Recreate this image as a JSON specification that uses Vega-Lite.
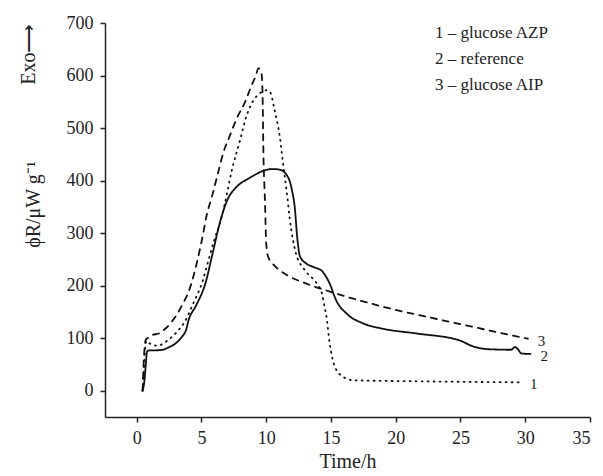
{
  "$schema": "https://vega.github.io/schema/vega-lite/v6.json",
  "width": 485,
  "height": 394,
  "autosize": {"type": "none"},
  "padding": {"left": 105, "top": 23, "right": 13, "bottom": 59},
  "background": "white",
  "config": {
    "view": {"stroke": null},
    "font": "'Liberation Serif', 'Times New Roman', serif",
    "axis": {
      "grid": false,
      "labelFont": "'Liberation Serif', 'Times New Roman', serif",
      "labelFontSize": 18,
      "labelColor": "#222",
      "labelPadding": 7,
      "tickSize": 5,
      "tickColor": "#222",
      "tickWidth": 1.5,
      "domainColor": "#222",
      "domainWidth": 1.5,
      "titleFont": "'Liberation Serif', 'Times New Roman', serif",
      "titleFontSize": 20,
      "titleFontWeight": "normal",
      "titleColor": "#222"
    }
  },
  "data": {
    "values": [
      {"t": 0.45, "phi": 0, "curve": "2 – reference", "id": "2"},
      {"t": 0.6, "phi": 20, "curve": "2 – reference", "id": "2"},
      {"t": 0.7, "phi": 50, "curve": "2 – reference", "id": "2"},
      {"t": 0.8, "phi": 75, "curve": "2 – reference", "id": "2"},
      {"t": 1.0, "phi": 77, "curve": "2 – reference", "id": "2"},
      {"t": 1.5, "phi": 77, "curve": "2 – reference", "id": "2"},
      {"t": 2.0, "phi": 78, "curve": "2 – reference", "id": "2"},
      {"t": 2.5, "phi": 83, "curve": "2 – reference", "id": "2"},
      {"t": 3.0, "phi": 90, "curve": "2 – reference", "id": "2"},
      {"t": 3.5, "phi": 103, "curve": "2 – reference", "id": "2"},
      {"t": 3.8, "phi": 115, "curve": "2 – reference", "id": "2"},
      {"t": 4.0, "phi": 134, "curve": "2 – reference", "id": "2"},
      {"t": 4.6, "phi": 163, "curve": "2 – reference", "id": "2"},
      {"t": 5.3, "phi": 204, "curve": "2 – reference", "id": "2"},
      {"t": 5.8, "phi": 255, "curve": "2 – reference", "id": "2"},
      {"t": 6.4, "phi": 318, "curve": "2 – reference", "id": "2"},
      {"t": 6.94, "phi": 360, "curve": "2 – reference", "id": "2"},
      {"t": 7.7, "phi": 388, "curve": "2 – reference", "id": "2"},
      {"t": 8.5, "phi": 402, "curve": "2 – reference", "id": "2"},
      {"t": 9.2, "phi": 412, "curve": "2 – reference", "id": "2"},
      {"t": 9.8, "phi": 419, "curve": "2 – reference", "id": "2"},
      {"t": 10.5, "phi": 422, "curve": "2 – reference", "id": "2"},
      {"t": 11.0, "phi": 421, "curve": "2 – reference", "id": "2"},
      {"t": 11.3, "phi": 418, "curve": "2 – reference", "id": "2"},
      {"t": 11.6, "phi": 410, "curve": "2 – reference", "id": "2"},
      {"t": 11.8, "phi": 400, "curve": "2 – reference", "id": "2"},
      {"t": 12.0, "phi": 380, "curve": "2 – reference", "id": "2"},
      {"t": 12.2, "phi": 350, "curve": "2 – reference", "id": "2"},
      {"t": 12.4, "phi": 290, "curve": "2 – reference", "id": "2"},
      {"t": 12.6, "phi": 256, "curve": "2 – reference", "id": "2"},
      {"t": 13.1, "phi": 242, "curve": "2 – reference", "id": "2"},
      {"t": 13.7, "phi": 235, "curve": "2 – reference", "id": "2"},
      {"t": 14.3, "phi": 228, "curve": "2 – reference", "id": "2"},
      {"t": 14.6, "phi": 218, "curve": "2 – reference", "id": "2"},
      {"t": 14.9, "phi": 204, "curve": "2 – reference", "id": "2"},
      {"t": 15.4, "phi": 172, "curve": "2 – reference", "id": "2"},
      {"t": 16.2, "phi": 147, "curve": "2 – reference", "id": "2"},
      {"t": 17.5, "phi": 128, "curve": "2 – reference", "id": "2"},
      {"t": 19.0, "phi": 118, "curve": "2 – reference", "id": "2"},
      {"t": 21.6, "phi": 109, "curve": "2 – reference", "id": "2"},
      {"t": 24.9, "phi": 96, "curve": "2 – reference", "id": "2"},
      {"t": 25.3, "phi": 92, "curve": "2 – reference", "id": "2"},
      {"t": 25.7, "phi": 87, "curve": "2 – reference", "id": "2"},
      {"t": 27.2, "phi": 79, "curve": "2 – reference", "id": "2"},
      {"t": 28.9, "phi": 78, "curve": "2 – reference", "id": "2"},
      {"t": 29.2, "phi": 83, "curve": "2 – reference", "id": "2"},
      {"t": 29.4, "phi": 80, "curve": "2 – reference", "id": "2"},
      {"t": 29.7, "phi": 71, "curve": "2 – reference", "id": "2"},
      {"t": 30.4, "phi": 70, "curve": "2 – reference", "id": "2"},

      {"t": 0.45, "phi": 0, "curve": "3 – glucose AIP", "id": "3"},
      {"t": 0.5, "phi": 30, "curve": "3 – glucose AIP", "id": "3"},
      {"t": 0.55, "phi": 60, "curve": "3 – glucose AIP", "id": "3"},
      {"t": 0.6, "phi": 80, "curve": "3 – glucose AIP", "id": "3"},
      {"t": 0.7, "phi": 97, "curve": "3 – glucose AIP", "id": "3"},
      {"t": 0.9, "phi": 101, "curve": "3 – glucose AIP", "id": "3"},
      {"t": 1.2, "phi": 106, "curve": "3 – glucose AIP", "id": "3"},
      {"t": 1.7, "phi": 109, "curve": "3 – glucose AIP", "id": "3"},
      {"t": 2.2, "phi": 118, "curve": "3 – glucose AIP", "id": "3"},
      {"t": 2.7, "phi": 131, "curve": "3 – glucose AIP", "id": "3"},
      {"t": 3.1, "phi": 145, "curve": "3 – glucose AIP", "id": "3"},
      {"t": 3.5, "phi": 163, "curve": "3 – glucose AIP", "id": "3"},
      {"t": 4.0, "phi": 188, "curve": "3 – glucose AIP", "id": "3"},
      {"t": 4.4, "phi": 220, "curve": "3 – glucose AIP", "id": "3"},
      {"t": 4.75, "phi": 255, "curve": "3 – glucose AIP", "id": "3"},
      {"t": 5.1, "phi": 295, "curve": "3 – glucose AIP", "id": "3"},
      {"t": 5.4, "phi": 334, "curve": "3 – glucose AIP", "id": "3"},
      {"t": 5.8, "phi": 369, "curve": "3 – glucose AIP", "id": "3"},
      {"t": 6.2, "phi": 407, "curve": "3 – glucose AIP", "id": "3"},
      {"t": 6.7, "phi": 454, "curve": "3 – glucose AIP", "id": "3"},
      {"t": 7.2, "phi": 486, "curve": "3 – glucose AIP", "id": "3"},
      {"t": 7.7, "phi": 517, "curve": "3 – glucose AIP", "id": "3"},
      {"t": 8.35, "phi": 549, "curve": "3 – glucose AIP", "id": "3"},
      {"t": 8.87, "phi": 581, "curve": "3 – glucose AIP", "id": "3"},
      {"t": 9.2, "phi": 600, "curve": "3 – glucose AIP", "id": "3"},
      {"t": 9.4, "phi": 614, "curve": "3 – glucose AIP", "id": "3"},
      {"t": 9.64, "phi": 603, "curve": "3 – glucose AIP", "id": "3"},
      {"t": 9.72, "phi": 560, "curve": "3 – glucose AIP", "id": "3"},
      {"t": 9.78, "phi": 457, "curve": "3 – glucose AIP", "id": "3"},
      {"t": 9.9, "phi": 362, "curve": "3 – glucose AIP", "id": "3"},
      {"t": 10.0, "phi": 280, "curve": "3 – glucose AIP", "id": "3"},
      {"t": 10.15, "phi": 255, "curve": "3 – glucose AIP", "id": "3"},
      {"t": 10.5, "phi": 242, "curve": "3 – glucose AIP", "id": "3"},
      {"t": 11.0, "phi": 230, "curve": "3 – glucose AIP", "id": "3"},
      {"t": 11.6, "phi": 220, "curve": "3 – glucose AIP", "id": "3"},
      {"t": 13.1, "phi": 204, "curve": "3 – glucose AIP", "id": "3"},
      {"t": 15.4, "phi": 185, "curve": "3 – glucose AIP", "id": "3"},
      {"t": 19.0, "phi": 160, "curve": "3 – glucose AIP", "id": "3"},
      {"t": 24.2, "phi": 131, "curve": "3 – glucose AIP", "id": "3"},
      {"t": 30.2, "phi": 99, "curve": "3 – glucose AIP", "id": "3"},

      {"t": 0.45, "phi": 0, "curve": "1 – glucose AZP", "id": "1"},
      {"t": 0.55, "phi": 40, "curve": "1 – glucose AZP", "id": "1"},
      {"t": 0.65, "phi": 80, "curve": "1 – glucose AZP", "id": "1"},
      {"t": 0.75, "phi": 95, "curve": "1 – glucose AZP", "id": "1"},
      {"t": 1.0, "phi": 90, "curve": "1 – glucose AZP", "id": "1"},
      {"t": 1.5, "phi": 86, "curve": "1 – glucose AZP", "id": "1"},
      {"t": 1.8, "phi": 87, "curve": "1 – glucose AZP", "id": "1"},
      {"t": 2.4, "phi": 96, "curve": "1 – glucose AZP", "id": "1"},
      {"t": 3.1, "phi": 112, "curve": "1 – glucose AZP", "id": "1"},
      {"t": 3.7, "phi": 131, "curve": "1 – glucose AZP", "id": "1"},
      {"t": 4.36, "phi": 166, "curve": "1 – glucose AZP", "id": "1"},
      {"t": 5.1, "phi": 210, "curve": "1 – glucose AZP", "id": "1"},
      {"t": 5.5, "phi": 245, "curve": "1 – glucose AZP", "id": "1"},
      {"t": 6.0, "phi": 288, "curve": "1 – glucose AZP", "id": "1"},
      {"t": 6.55, "phi": 330, "curve": "1 – glucose AZP", "id": "1"},
      {"t": 6.94, "phi": 372, "curve": "1 – glucose AZP", "id": "1"},
      {"t": 7.3, "phi": 415, "curve": "1 – glucose AZP", "id": "1"},
      {"t": 7.97, "phi": 476, "curve": "1 – glucose AZP", "id": "1"},
      {"t": 8.5, "phi": 525, "curve": "1 – glucose AZP", "id": "1"},
      {"t": 9.0, "phi": 552, "curve": "1 – glucose AZP", "id": "1"},
      {"t": 9.5, "phi": 566, "curve": "1 – glucose AZP", "id": "1"},
      {"t": 10.0, "phi": 572, "curve": "1 – glucose AZP", "id": "1"},
      {"t": 10.3, "phi": 568, "curve": "1 – glucose AZP", "id": "1"},
      {"t": 10.66, "phi": 533, "curve": "1 – glucose AZP", "id": "1"},
      {"t": 11.05, "phi": 483, "curve": "1 – glucose AZP", "id": "1"},
      {"t": 11.3, "phi": 432, "curve": "1 – glucose AZP", "id": "1"},
      {"t": 11.6, "phi": 375, "curve": "1 – glucose AZP", "id": "1"},
      {"t": 11.8, "phi": 330, "curve": "1 – glucose AZP", "id": "1"},
      {"t": 12.3, "phi": 261, "curve": "1 – glucose AZP", "id": "1"},
      {"t": 13.0, "phi": 229, "curve": "1 – glucose AZP", "id": "1"},
      {"t": 13.9, "phi": 204, "curve": "1 – glucose AZP", "id": "1"},
      {"t": 14.3, "phi": 185, "curve": "1 – glucose AZP", "id": "1"},
      {"t": 14.5, "phi": 160, "curve": "1 – glucose AZP", "id": "1"},
      {"t": 14.65, "phi": 141, "curve": "1 – glucose AZP", "id": "1"},
      {"t": 14.9, "phi": 90, "curve": "1 – glucose AZP", "id": "1"},
      {"t": 15.3, "phi": 46, "curve": "1 – glucose AZP", "id": "1"},
      {"t": 15.9, "phi": 27, "curve": "1 – glucose AZP", "id": "1"},
      {"t": 16.7, "phi": 20, "curve": "1 – glucose AZP", "id": "1"},
      {"t": 21.6, "phi": 18, "curve": "1 – glucose AZP", "id": "1"},
      {"t": 29.6, "phi": 16, "curve": "1 – glucose AZP", "id": "1"}
    ]
  },
  "layer": [
    {
      "mark": {"type": "line", "color": "#111", "strokeWidth": 1.8, "strokeCap": "round", "interpolate": "monotone"},
      "encoding": {
        "x": {
          "field": "t", "type": "quantitative",
          "scale": {"domain": [-2.45, 35], "nice": false, "zero": false},
          "axis": {"values": [0, 5, 10, 15, 20, 25, 30, 35], "title": "Time/h", "titlePadding": 4}
        },
        "y": {
          "field": "phi", "type": "quantitative",
          "scale": {"domain": [-50, 700], "nice": false, "zero": false},
          "axis": {
            "values": [0, 100, 200, 300, 400, 500, 600, 700],
            "title": "ϕR/μW g⁻¹",
            "titleX": -66, "titleY": 181, "titleAngle": -90,
            "titleBaseline": "alphabetic", "titleAlign": "center"
          }
        },
        "strokeDash": {
          "field": "curve", "type": "nominal",
          "scale": {
            "domain": ["1 – glucose AZP", "2 – reference", "3 – glucose AIP"],
            "range": [[1, 5], [1, 0], [6, 6]]
          },
          "legend": {
            "orient": "none", "legendX": 311, "legendY": 1, "title": null,
            "symbolOpacity": 0, "symbolStrokeWidth": 0, "symbolSize": 1,
            "labelFont": "'Liberation Serif', 'Times New Roman', serif", "labelFontSize": 17, "labelColor": "#222",
            "labelOffset": 2, "rowPadding": 8, "padding": 0
          }
        }
      }
    },
    {
      "mark": {"type": "text", "align": "left", "baseline": "middle", "dx": 10, "dy": 2, "fontSize": 15, "font": "'Liberation Serif', 'Times New Roman', serif", "color": "#222"},
      "encoding": {
        "x": {
          "field": "t", "type": "quantitative", "aggregate": {"argmax": "t"},
          "scale": {"domain": [-2.45, 35], "nice": false, "zero": false},
          "axis": {"values": [0, 5, 10, 15, 20, 25, 30, 35], "title": "Time/h", "titlePadding": 4}
        },
        "y": {
          "field": "phi", "type": "quantitative", "aggregate": {"argmax": "t"},
          "scale": {"domain": [-50, 700], "nice": false, "zero": false},
          "axis": {
            "orient": "left", "title": "Exo⟶", "labels": false, "ticks": false, "domain": false,
            "titleX": -71, "titleY": 0, "titleAngle": -90,
            "titleBaseline": "alphabetic", "titleAlign": "right"
          }
        },
        "text": {"field": "id", "type": "nominal"}
      }
    }
  ],
  "resolve": {"axis": {"y": "independent"}}
}
